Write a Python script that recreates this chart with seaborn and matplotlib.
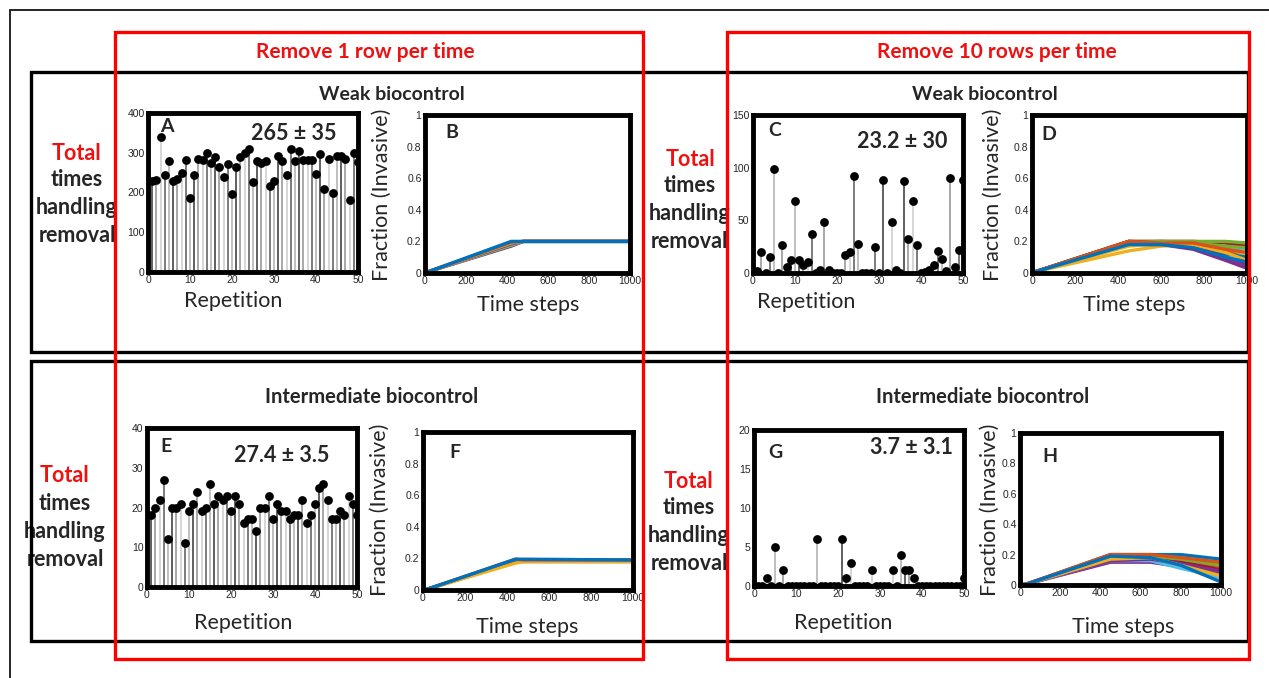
import numpy as np
import pandas as pd
import matplotlib
matplotlib.use('Agg')
import matplotlib.pyplot as plt
import seaborn as sns
from matplotlib.patches import Rectangle

# stem values (total times handling removal, 50 repetitions)
weak_1row = [228, 232, 339, 245, 280, 230, 234, 249, 281, 185,
             245, 284, 283, 299, 274, 289, 263, 238, 272, 195,
             263, 289, 299, 309, 226, 278, 274, 278, 217, 230,
             293, 278, 244, 309, 278, 305, 281, 283, 283, 247,
             297, 209, 285, 199, 293, 291, 284, 182, 299, 276]
weak_10rows = [2, 20, 0, 15, 99, 0, 27, 6, 12, 68,
               12, 8, 10, 37, 0, 3, 48, 3, 0, 0,
               0, 17, 20, 92, 28, 0, 0, 0, 25, 0,
               88, 0, 48, 3, 0, 87, 32, 68, 27, 0,
               1, 3, 8, 21, 13, 2, 90, 6, 22, 88]
inter_1row = [18, 20, 22, 27, 12, 20, 20, 21, 11, 19,
              21, 24, 19, 20, 26, 21, 23, 22, 23, 19,
              23, 21, 16, 17, 17, 14, 20, 20, 23, 17,
              21, 19, 19, 17, 18, 18, 22, 16, 18, 21,
              25, 26, 22, 17, 17, 19, 18, 23, 21, 18]
inter_10rows = [0, 0, 1, 0, 5, 0, 2, 0, 0, 0,
                0, 0, 0, 0, 6, 0, 0, 0, 0, 0,
                6, 1, 3, 0, 0, 0, 0, 2, 0, 0,
                0, 0, 2, 0, 4, 2, 2, 1, 0, 0,
                0, 0, 0, 0, 0, 0, 0, 0, 0, 1]

# invasive fraction trajectories, read at a few time steps
b_times = [0, 20, 420, 480, 1000]
b_runs = [[0, 0.01, 0.170, 0.20, 0.20],
          [0, 0.01, 0.175, 0.20, 0.20],
          [0, 0.01, 0.180, 0.20, 0.20],
          [0, 0.01, 0.185, 0.20, 0.20],
          [0, 0.01, 0.190, 0.20, 0.20],
          [0, 0.01, 0.195, 0.20, 0.20],
          [0, 0.01, 0.200, 0.20, 0.20]]

d_times = [0, 20, 450, 600, 750, 900, 1000]
d_runs = [[0, 0.01, 0.20, 0.20, 0.20, 0.19, 0.17],
          [0, 0.01, 0.19, 0.20, 0.19, 0.15, 0.12],
          [0, 0.01, 0.20, 0.20, 0.20, 0.20, 0.19],
          [0, 0.01, 0.18, 0.18, 0.15, 0.08, 0.03],
          [0, 0.01, 0.14, 0.17, 0.18, 0.15, 0.12],
          [0, 0.01, 0.19, 0.19, 0.18, 0.14, 0.09],
          [0, 0.01, 0.18, 0.19, 0.17, 0.12, 0.10],
          [0, 0.01, 0.20, 0.19, 0.17, 0.10, 0.06],
          [0, 0.01, 0.18, 0.19, 0.18, 0.16, 0.15],
          [0, 0.01, 0.19, 0.20, 0.19, 0.17, 0.16],
          [0, 0.01, 0.18, 0.18, 0.16, 0.10, 0.05],
          [0, 0.01, 0.17, 0.19, 0.18, 0.13, 0.08],
          [0, 0.01, 0.20, 0.19, 0.19, 0.15, 0.13],
          [0, 0.01, 0.18, 0.18, 0.16, 0.10, 0.07]]

f_times = [0, 20, 440, 480, 1000]
f_runs = [[0, 0.005, 0.180, 0.180, 0.180],
          [0, 0.005, 0.185, 0.185, 0.182],
          [0, 0.005, 0.190, 0.190, 0.190],
          [0, 0.005, 0.185, 0.185, 0.185],
          [0, 0.005, 0.170, 0.180, 0.180],
          [0, 0.005, 0.195, 0.190, 0.190],
          [0, 0.005, 0.195, 0.195, 0.190]]

h_times = [0, 30, 450, 650, 800, 1000]
h_runs = [[0, 0.005, 0.20, 0.20, 0.17, 0.14],
          [0, 0.005, 0.18, 0.18, 0.14, 0.08],
          [0, 0.005, 0.19, 0.20, 0.18, 0.15],
          [0, 0.005, 0.15, 0.15, 0.12, 0.07],
          [0, 0.005, 0.17, 0.17, 0.12, 0.03],
          [0, 0.005, 0.19, 0.19, 0.16, 0.12],
          [0, 0.005, 0.17, 0.20, 0.20, 0.17],
          [0, 0.005, 0.18, 0.19, 0.15, 0.10],
          [0, 0.005, 0.16, 0.16, 0.11, 0.05],
          [0, 0.005, 0.18, 0.19, 0.17, 0.13],
          [0, 0.005, 0.16, 0.17, 0.14, 0.09],
          [0, 0.005, 0.17, 0.18, 0.13, 0.06],
          [0, 0.005, 0.20, 0.20, 0.18, 0.15],
          [0, 0.005, 0.19, 0.18, 0.13, 0.02]]

matlab_colors = ['#0072BD', '#D95319', '#EDB120', '#7E2F8E', '#77AC30', '#4DBEEE', '#A2142F']
stem_grays = ['#444444', '#9a9a9a', '#cfcfcf', '#666666', '#b5b5b5']

sns.set_theme(style='white')
plt.rcParams['font.family'] = ['Lato', 'DejaVu Sans']

W, H = 1269, 678
fig = plt.figure(figsize=(W / 100, H / 100), dpi=100)
fig.patch.set_facecolor('white')


def box(x0, y0, x1, y1):
    return [x0 / W, 1 - y1 / H, (x1 - x0) / W, (y1 - y0) / H]


def style_axes(ax):
    for s in ax.spines.values():
        s.set_visible(True)
        s.set_linewidth(3.5)
        s.set_color('black')
    ax.tick_params(labelsize=7.5, length=0, pad=2.5)
    for lab in ax.get_xticklabels() + ax.get_yticklabels():
        lab.set_family('Liberation Sans')
    ax.set_xlabel('')
    ax.set_ylabel('')
    ax.grid(False)


def stem_panel(rect, values, ymax, ystep):
    ax = fig.add_axes(box(*rect))
    df = pd.DataFrame({'rep': np.arange(1, len(values) + 1), 'val': values})
    ax.vlines(df['rep'], 0, df['val'], lw=1.2, zorder=1,
              colors=[stem_grays[i % len(stem_grays)] for i in range(len(df))])
    sns.scatterplot(data=df, x='rep', y='val', color='black', s=40,
                    linewidth=0, ax=ax, zorder=3)
    ax.set_xlim(0, 50)
    ax.set_ylim(0, ymax)
    ax.set_xticks(range(0, 51, 10))
    ax.set_yticks(range(0, ymax + 1, ystep))
    style_axes(ax)
    return ax


def line_panel(rect, times, runs):
    ax = fig.add_axes(box(*rect))
    df = pd.DataFrame([(k, t, v) for k, row in enumerate(runs) for t, v in zip(times, row)],
                      columns=['run', 't', 'frac'])
    # last run drawn on top is blue, as in the MATLAB output
    pal = [matlab_colors[(len(runs) - 1 - k) % len(matlab_colors)] for k in range(len(runs))]
    sns.lineplot(data=df, x='t', y='frac', hue='run', palette=pal,
                 estimator=None, legend=False, lw=2.4, ax=ax)
    ax.set_xlim(0, 1000)
    ax.set_ylim(0, 1)
    ax.set_xticks(range(0, 1001, 200))
    ax.set_yticks([0, 0.2, 0.4, 0.6, 0.8, 1])
    ax.set_yticklabels(['0', '0.2', '0.4', '0.6', '0.8', '1'])
    style_axes(ax)
    return ax


ax_a = stem_panel((148, 113, 358, 272), weak_1row, 400, 100)
ax_b = line_panel((425, 115, 630, 273), b_times, b_runs)
ax_c = stem_panel((753, 115, 963, 273), weak_10rows, 150, 50)
ax_d = line_panel((1032, 115, 1247, 273), d_times, d_runs)
ax_e = stem_panel((147, 428, 357, 587), inter_1row, 40, 10)
ax_f = line_panel((423, 432, 633, 590), f_times, f_runs)
ax_g = stem_panel((754, 430, 964, 586), inter_10rows, 20, 5)
ax_h = line_panel((1020, 433, 1221, 585), h_times, h_runs)


def ftext(x, y, s, **kw):
    kw.setdefault('ha', 'center')
    kw.setdefault('va', 'center')
    fig.text(x / W, 1 - y / H, s, **kw)


# panel letters and mean +- sd
for x, y, s in [(167, 127, 'A'), (452, 133, 'B'), (775, 131, 'C'), (1049, 134, 'D'),
                (166, 446, 'E'), (455, 452, 'F'), (775, 452, 'G'), (1050, 456, 'H')]:
    ftext(x, y, s, fontsize=14, fontweight='bold')
for x, y, s in [(294, 133, '265 ± 35'), (902, 142, '23.2 ± 30'),
                (282, 455, '27.4 ± 3.5'), (911, 447, '3.7 ± 3.1')]:
    ftext(x, y, s, fontsize=15.5, fontweight='bold')

# axis labels
for x, y in [(233, 301), (806, 302), (243, 623), (843, 623)]:
    ftext(x, y, 'Repetition', fontsize=15.5)
for x, y in [(528, 305), (1134, 305), (527, 627), (1123, 627)]:
    ftext(x, y, 'Time steps', fontsize=15.5)
for x, y in [(382, 195), (993, 195), (380, 510), (990, 510)]:
    ftext(x, y, 'Fraction (Invasive)', fontsize=15.5, rotation=90)

# headers
ftext(365, 52, 'Remove 1 row per time', fontsize=15, fontweight='bold', color='#ee1111')
ftext(997, 52, 'Remove 10 rows per time', fontsize=15, fontweight='bold', color='#ee1111')
ftext(392, 95, 'Weak biocontrol', fontsize=14, fontweight='bold')
ftext(985, 95, 'Weak biocontrol', fontsize=14, fontweight='bold')
ftext(372, 397, 'Intermediate biocontrol', fontsize=14.5, fontweight='bold')
ftext(983, 397, 'Intermediate biocontrol', fontsize=14.5, fontweight='bold')

# side labels
for x, y0 in [(77, 153), (690, 159), (65, 476), (689, 481)]:
    ftext(x, y0, 'Total', fontsize=15.5, fontweight='bold', color='#ee1111')
    for k, word in enumerate(['times', 'handling', 'removal']):
        ftext(x, y0 + 28 * (k + 1) - 1, word, fontsize=15.5, fontweight='bold')

# frames
def frame(x0, y0, x1, y1, color, lw):
    fig.add_artist(Rectangle((x0 / W, 1 - y1 / H), (x1 - x0) / W, (y1 - y0) / H,
                             transform=fig.transFigure, fill=False,
                             edgecolor=color, lw=lw, zorder=10))


frame(10, 10, 1290, 700, 'black', 1.2)
frame(31, 72, 1248, 352, 'black', 2.4)
frame(31, 361, 1248, 641, 'black', 2.4)
frame(115, 32, 643, 659, '#ff0000', 2.4)
frame(727, 32, 1249, 659, '#ff0000', 2.4)

fig.savefig('out.png', dpi=100, facecolor='white')
